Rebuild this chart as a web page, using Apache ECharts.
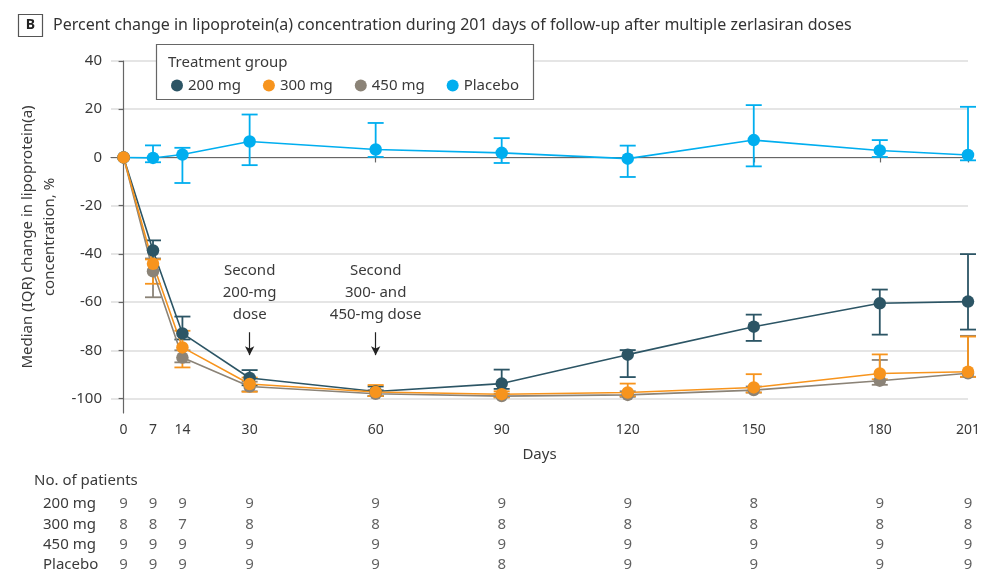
<!DOCTYPE html>
<html><head><meta charset="utf-8">
<script src="https://cdn.jsdelivr.net/npm/echarts@6/dist/echarts.min.js"></script>
<style>html,body{margin:0;padding:0;background:#fff}#c{width:1000px;height:578px}</style>
</head><body><div id="c"></div>
<script>
const days = [0, 7, 14, 30, 60, 90, 120, 150, 180, 201];
const yTicks = [-100, -80, -60, -40, -20, 0, 20, 40];

const med200 = [0, -38.6, -73, -91.5, -97.1, -93.8, -81.8, -70.2, -60.5, -59.8];
const lo200  = [null, -42, -75.5, -94.5, -99, -96, -91.1, -76.1, -73.5, -71.4];
const hi200  = [null, -34.4, -66, -88.2, -95, -88, -79.9, -65.2, -54.8, -40.1];

const med300 = [0, -44.1, -78.8, -94, -97.3, -98.2, -97.5, -95.4, -89.6, -88.9];
const lo300  = [null, -52.4, -87.1, -97.2, -99, -99.5, -99, -97.5, -92, -91];
const hi300  = [null, -42.3, -71.9, -91.3, -94.4, -97, -93.8, -89.9, -81.7, -74.3];

const med450 = [0, -47.2, -83, -95, -98, -99, -98.5, -96.5, -92.6, -89.5];
const lo450  = [null, -58, -85, -97, -99, -99.5, -99.3, -97.5, -94.3, -91];
const hi450  = [null, -42, -80, -93, -96.5, -98, -97, -95, -84, -74];

const medPl  = [0, -0.2, 1.2, 6.6, 3.3, 1.9, -0.5, 7.2, 2.9, 1];
const loPl   = [null, -2, -10.6, -3.2, 0.2, -2.3, -8.1, -3.7, 0.2, -1.2];
const hiPl   = [null, 5, 4, 17.8, 14.3, 8, 4.9, 21.7, 7.2, 21];

const rowNames = ['200 mg', '300 mg', '450 mg', 'Placebo'];
const n200 = [9, 9, 9, 9, 9, 9, 9, 8, 9, 9];
const n300 = [8, 8, 7, 8, 8, 8, 8, 8, 8, 8];
const n450 = [9, 9, 9, 9, 9, 9, 9, 9, 9, 9];
const nPl  = [9, 9, 9, 9, 9, 8, 9, 9, 9, 9];

const C200 = '#2c5565', C300 = '#f7941d', C450 = '#8b8377', CPL = '#00aeef';
const FONT = 'Noto Sans';
const TXT = '#3a3a3a';

function errSeries(name, color, lo, hi) {
  const data = [];
  days.forEach((d, i) => { if (lo[i] != null) data.push([d, lo[i], hi[i]]); });
  return {
    type: 'custom', name: name, xAxisIndex: 0, yAxisIndex: 0, silent: true, z: 2,
    encode: { x: 0, y: [1, 2] },
    renderItem: function (params, api) {
      const x = api.value(0);
      const p1 = api.coord([x, api.value(1)]);
      const p2 = api.coord([x, api.value(2)]);
      const w = 8;
      const style = { stroke: color, lineWidth: 1.8, fill: null };
      return { type: 'group', children: [
        { type: 'line', shape: { x1: p1[0], y1: p1[1], x2: p2[0], y2: p2[1] }, style: style },
        { type: 'line', shape: { x1: p1[0] - w, y1: p1[1], x2: p1[0] + w, y2: p1[1] }, style: style },
        { type: 'line', shape: { x1: p2[0] - w, y1: p2[1], x2: p2[0] + w, y2: p2[1] }, style: style }
      ] };
    },
    data: data
  };
}
function lineSeries(name, color, med, extra) {
  return Object.assign({
    type: 'line', name: name, xAxisIndex: 0, yAxisIndex: 0, z: 3,
    data: days.map((d, i) => [d, med[i]]),
    symbol: 'circle', symbolSize: 12.5, showSymbol: true,
    lineStyle: { color: color, width: 1.6 },
    itemStyle: { color: color, opacity: 1 }
  }, extra || {});
}

const tableData = [];
[n200, n300, n450, nPl].forEach((arr, r) => {
  arr.forEach((v, i) => tableData.push([days[i], rowNames[r], v]));
});

const option = {
  animation: false,
  backgroundColor: '#fff',
  textStyle: { fontFamily: FONT },
  grid: [
    { left: 111, right: 32, top: 61, bottom: 165, containLabel: false },
    { left: 111, right: 32, top: 494, height: 81, containLabel: false }
  ],
  xAxis: [
    {
      type: 'value', gridIndex: 0, min: -3, max: 201,
      name: 'Days', nameLocation: 'middle', nameGap: 34,
      nameTextStyle: { fontSize: 15, color: TXT, fontFamily: FONT },
      axisLine: { show: true, lineStyle: { color: '#666', width: 1.2 } },
      axisTick: { show: true, length: 5, lineStyle: { color: '#666', width: 1.2 }, customValues: days },
      axisLabel: { fontSize: 14, color: TXT, margin: 10, fontFamily: FONT, customValues: days },
      splitLine: { show: false }
    },
    { type: 'value', gridIndex: 1, min: -3, max: 201, show: false }
  ],
  yAxis: [
    {
      type: 'value', gridIndex: 0, min: -106, max: 40, splitNumber: 7,
      name: 'Median (IQR) change in lipoprotein(a)\nconcentration, %',
      nameLocation: 'middle', nameGap: 50, nameRotate: 90,
      nameTextStyle: { fontSize: 15, color: TXT, fontFamily: FONT, lineHeight: 22 },
      axisLine: { show: true, lineStyle: { color: '#666', width: 1.2 } },
      axisTick: { show: true, length: 5, lineStyle: { color: '#666', width: 1.2 }, customValues: yTicks },
      axisLabel: { fontSize: 15, color: TXT, margin: 9, fontFamily: FONT, customValues: yTicks },
      splitLine: { show: true, lineStyle: { color: '#dcdcdc', width: 1.5 } }
    },
    {
      type: 'category', gridIndex: 1, data: rowNames, inverse: true,
      axisLine: { show: false }, axisTick: { show: false }, splitLine: { show: false },
      axisLabel: { align: 'left', margin: 68, fontSize: 15, color: TXT, fontFamily: FONT }
    }
  ],
  legend: {
    z: 20, left: 166, top: 73, icon: 'circle', itemWidth: 12, itemHeight: 12, itemGap: 22,
    selectedMode: false,
    textStyle: { fontSize: 15, color: TXT, fontFamily: FONT },
    data: [
      { name: '200 mg', itemStyle: { color: C200 } },
      { name: '300 mg', itemStyle: { color: C300 } },
      { name: '450 mg', itemStyle: { color: C450 } },
      { name: 'Placebo', itemStyle: { color: CPL } }
    ]
  },
  graphic: [
    { type: 'rect', z: 10, shape: { x: 18.5, y: 14.5, width: 24, height: 22 }, style: { fill: '#fff', stroke: '#555', lineWidth: 1.2 } },
    { type: 'text', z: 11, style: { x: 30.5, y: 25.5, text: 'B', fill: '#222', font: 'bold 14px "Noto Sans"', align: 'center', verticalAlign: 'middle' } },
    { type: 'text', z: 11, style: { x: 53, y: 25, text: 'Percent change in lipoprotein(a) concentration during 201 days of follow-up after multiple zerlasiran doses', fill: '#333', font: '16px "Noto Sans"', verticalAlign: 'middle' } },
    { type: 'rect', z: 10, shape: { x: 156.5, y: 44.5, width: 377, height: 55 }, style: { fill: '#fff', stroke: '#666', lineWidth: 1.2 } },
    { type: 'text', z: 21, style: { x: 168, y: 63, text: 'Treatment group', fill: TXT, font: '15px "Noto Sans"', verticalAlign: 'middle' } },
    { type: 'text', z: 11, style: { x: 34, y: 481, text: 'No. of patients', fill: TXT, font: '15px "Noto Sans"', verticalAlign: 'middle' } }
  ],
  series: [
    errSeries('Placebo err', CPL, loPl, hiPl),
    lineSeries('Placebo', CPL, medPl),
    errSeries('200 mg err', C200, lo200, hi200),
    lineSeries('200 mg', C200, med200, {
      markLine: {
        silent: true, symbol: ['none', 'arrow'], symbolSize: [7, 9], precision: 1,
        lineStyle: { color: '#222', width: 1.2, type: 'solid' },
        label: { show: true, position: 'start', distance: 6, color: TXT, fontSize: 15, lineHeight: 22, fontFamily: FONT, align: 'center' },
        emphasis: { disabled: true },
        data: [
          [{ coord: [30, -72.5], label: { formatter: 'Second\n200-mg\ndose' } }, { coord: [30, -82] }],
          [{ coord: [60, -72.5], label: { formatter: 'Second\n300- and\n450-mg dose' } }, { coord: [60, -82] }]
        ]
      }
    }),
    errSeries('450 mg err', C450, lo450, hi450),
    lineSeries('450 mg', C450, med450),
    errSeries('300 mg err', C300, lo300, hi300),
    lineSeries('300 mg', C300, med300),
    {
      type: 'scatter', name: 'counts', xAxisIndex: 1, yAxisIndex: 1, silent: true,
      symbolSize: 1, itemStyle: { color: 'rgba(0,0,0,0)' },
      label: { show: true, position: 'inside', formatter: p => String(p.value[2]), fontSize: 15, color: TXT, fontFamily: FONT },
      data: tableData
    }
  ]
};
const chart = echarts.init(document.getElementById('c'));
chart.setOption(option);
</script>
</body></html>
